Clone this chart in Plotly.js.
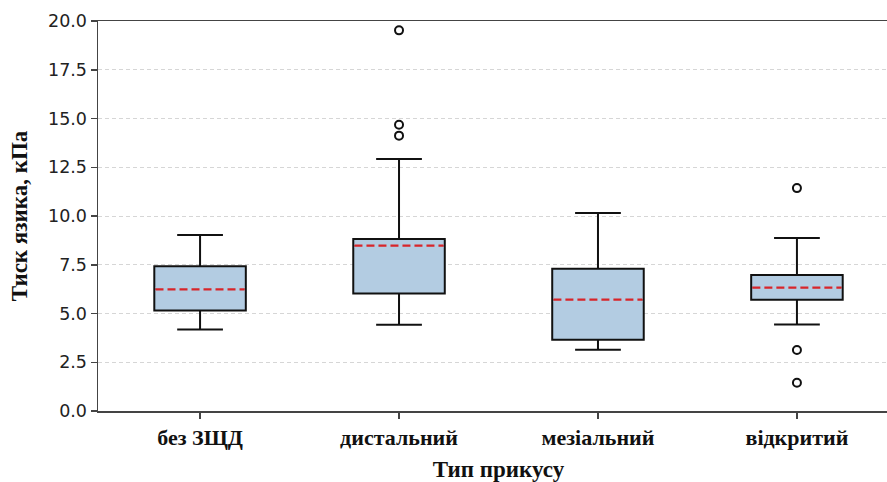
<!DOCTYPE html>
<html>
<head>
<meta charset="utf-8">
<script src="https://cdn.plot.ly/plotly-3.0.1.min.js"></script>
<style>
html, body { margin: 0; padding: 0; overflow: hidden; background: #fff; }
#chart { width: 900px; height: 482px; }
</style>
</head>
<body>
<div id="chart"></div>
<script>
const categories = ["без ЗЩД", "дистальний", "мезіальний", "відкритий"];
const q1Values = [5.15, 6.03, 3.65, 5.70];
const medianValues = [6.24, 8.48, 5.71, 6.33];
const q3Values = [7.42, 8.82, 7.30, 6.97];
const lowerWhisker = [4.18, 4.42, 3.14, 4.43];
const upperWhisker = [9.03, 12.92, 10.15, 8.87];
const outlierCategory = [1, 1, 1, 3, 3, 3];
const outlierValues = [19.52, 14.68, 14.12, 11.43, 3.13, 1.45];
const yTicks = [0, 2.5, 5, 7.5, 10, 12.5, 15, 17.5, 20];

const positions = categories.map((c, i) => i);
const boxWidth = 0.46;
const fillColor = "#b3cce2";

const traces = [];
traces.push({
  type: "box",
  x: positions,
  q1: q1Values,
  median: medianValues,
  q3: q3Values,
  lowerfence: lowerWhisker,
  upperfence: upperWhisker,
  width: boxWidth,
  whiskerwidth: 0.5,
  fillcolor: fillColor,
  line: { color: "#111", width: 2 },
  boxpoints: false,
  hoverinfo: "skip",
  showlegend: false
});

// cover default median, then draw red dashed median
positions.forEach((p, i) => {
  const half = boxWidth / 2 - 0.006;
  traces.push({
    type: "scatter", mode: "lines",
    x: [p - half, p + half], y: [medianValues[i], medianValues[i]],
    line: { color: fillColor, width: 3.5 },
    hoverinfo: "skip", showlegend: false
  });
  traces.push({
    type: "scatter", mode: "lines",
    x: [p - half, p + half], y: [medianValues[i], medianValues[i]],
    line: { color: "#d8252a", width: 2.2, dash: "8px,4px" },
    hoverinfo: "skip", showlegend: false
  });
});

traces.push({
  type: "scatter", mode: "markers",
  x: outlierCategory, y: outlierValues,
  marker: { symbol: "circle-open", size: 8, color: "#111", line: { width: 2, color: "#111" } },
  hoverinfo: "skip", showlegend: false
});

const layout = {
  width: 900, height: 482,
  margin: { l: 98, r: 1, t: 21, b: 71 },
  paper_bgcolor: "#fff", plot_bgcolor: "#fff",
  xaxis: {
    range: [-0.513, 3.513],
    tickmode: "array", tickvals: positions, ticktext: categories,
    showgrid: false, zeroline: false,
    showline: true, linecolor: "#444", linewidth: 1.5, mirror: true,
    ticks: "outside", ticklen: 6, tickwidth: 1.5, tickcolor: "#444",
    tickfont: { family: "Liberation Serif", size: 22, color: "#111", weight: "bold" },
    title: { text: "Тип прикусу", font: { family: "Liberation Serif", size: 23, color: "#111", weight: "bold" }, standoff: 13 }
  },
  yaxis: {
    range: [0, 20],
    tickmode: "array", tickvals: yTicks, ticktext: yTicks.map(v => v.toFixed(1)),
    showgrid: true, gridcolor: "#d6d6d6", gridwidth: 1, griddash: "4px,3px",
    zeroline: false,
    showline: true, linecolor: "#444", linewidth: 1.5, mirror: true,
    ticks: "outside", ticklen: 6, tickwidth: 1.5, tickcolor: "#444",
    tickfont: { family: "DejaVu Sans", size: 17.5, color: "#222" },
    title: { text: "Тиск язика, кПа", font: { family: "Liberation Serif", size: 23, color: "#111", weight: "bold" }, standoff: 14 }
  }
};

Plotly.newPlot("chart", traces, layout, { staticPlot: true, displayModeBar: false });
</script>
</body>
</html>
